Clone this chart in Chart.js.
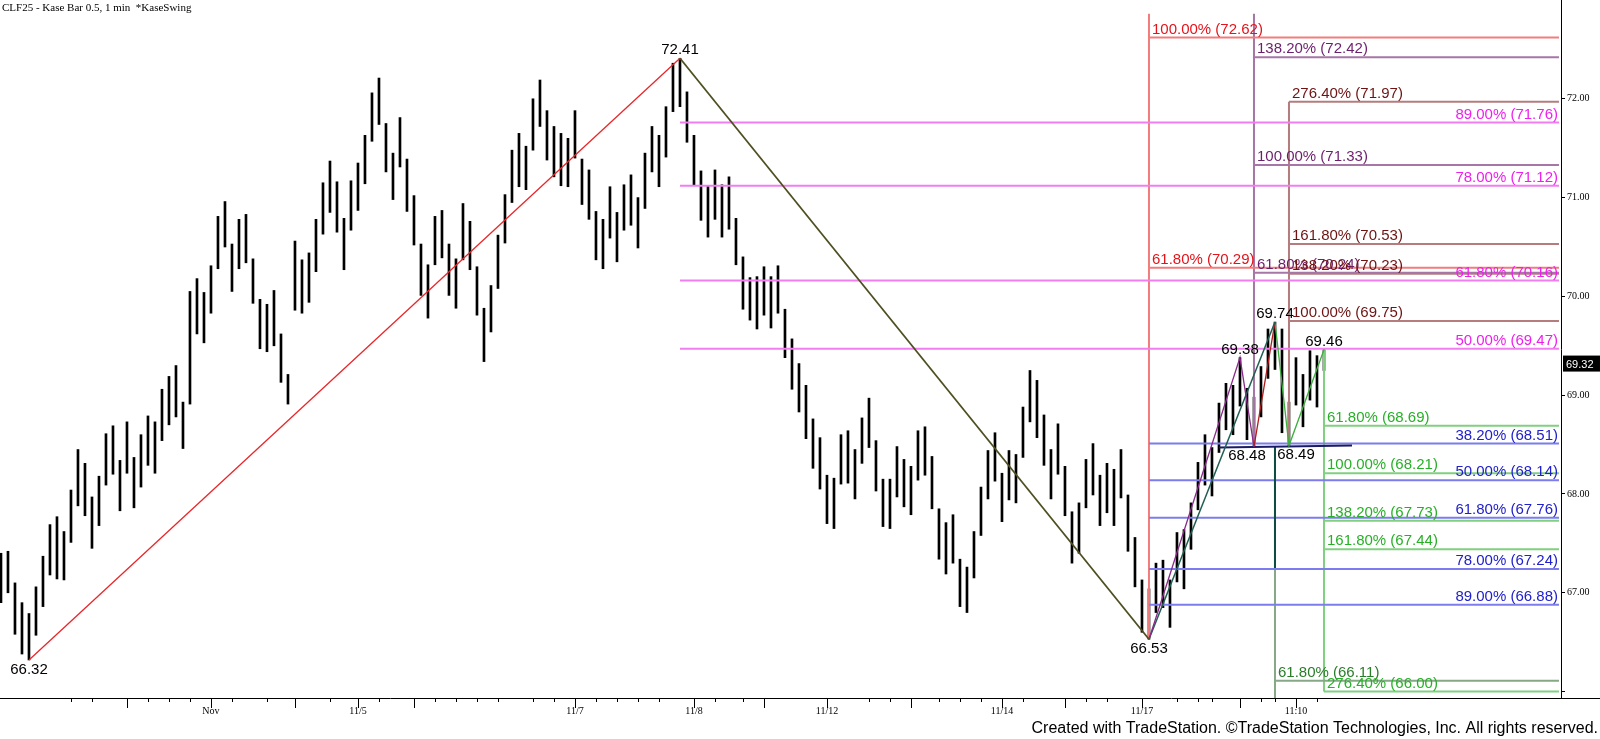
<!DOCTYPE html>
<html>
<head>
<meta charset="utf-8">
<script src="https://cdn.jsdelivr.net/npm/chart.js@4.4.1/dist/chart.umd.min.js"></script>
<style>
  html, body { margin: 0; padding: 0; background: #fff; }
  #wrap { width: 1600px; height: 739px; position: relative; }
</style>
</head>
<body>
<div id="wrap"><canvas id="chartKase"></canvas></div>
<script>
// one Kase bar per index
const highs = [67.40, 67.42, 67.10, 66.90, 66.79, 67.06, 67.37, 67.69, 67.77, 67.62,
  68.04, 68.45, 68.31, 67.97, 68.18, 68.61, 68.69, 68.34, 68.73, 68.37,
  68.60, 68.79, 68.73, 69.06, 69.19, 69.30, 68.93, 70.05, 70.18, 70.04,
  70.31, 70.81, 70.96, 70.53, 70.78, 70.83, 70.38, 69.97, 69.92, 70.06,
  69.62, 69.21, 70.56, 70.37, 70.44, 70.78, 71.15, 71.37, 71.16, 70.79,
  71.17, 71.35, 71.63, 72.06, 72.21, 71.75, 71.45, 71.81, 71.39, 71.02,
  70.53, 70.32, 70.81, 70.87, 70.53, 70.38, 70.94, 70.76, 70.30, 69.88,
  70.11, 70.62, 71.03, 71.48, 71.65, 71.52, 72.00, 72.19, 71.88, 71.72,
  71.65, 71.60, 71.88, 71.39, 71.28, 70.86, 70.78, 71.11, 70.85, 71.13,
  71.23, 71.00, 71.45, 71.72, 71.63, 71.92, 72.36, 72.41, 72.07, 71.63,
  71.27, 71.12, 71.28, 71.13, 71.21, 70.79, 70.40, 70.19, 70.20, 70.30,
  70.20, 70.31, 69.87, 69.57, 69.32, 69.10, 68.76, 68.57, 68.19, 68.16,
  68.60, 68.64, 68.45, 68.77, 68.97, 68.54, 68.15, 68.15, 68.48, 68.35,
  68.28, 68.64, 68.68, 68.38, 67.85, 67.71, 67.79, 67.34, 67.26, 67.62,
  68.07, 68.44, 68.62, 68.21, 68.44, 68.40, 68.88, 69.25, 69.15, 68.80,
  68.45, 68.71, 68.28, 67.82, 67.91, 68.35, 68.51, 68.19, 68.31, 68.25,
  68.45, 67.99, 67.56, 67.13, 67.04, 67.30, 67.33, 67.13, 67.61, 67.64,
  67.91, 68.32, 68.60, 68.47, 68.92, 69.12, 69.10, 69.38, 69.07, 68.98,
  69.29, 69.67, 69.74, 69.67, 68.93, 69.38, 69.21, 69.45, 69.40, 69.46];
const lows = [66.90, 67.00, 66.58, 66.38, 66.32, 66.57, 66.86, 67.18, 67.14, 67.13,
  67.51, 67.88, 67.78, 67.45, 67.68, 68.09, 68.20, 67.83, 68.21, 67.86,
  68.07, 68.29, 68.21, 68.54, 68.70, 68.78, 68.46, 68.91, 69.62, 69.53,
  69.83, 70.28, 70.50, 70.05, 70.28, 70.34, 69.93, 69.47, 69.44, 69.50,
  69.13, 68.91, 69.86, 69.83, 69.94, 70.25, 70.63, 70.85, 70.65, 70.27,
  70.67, 70.87, 71.14, 71.57, 71.74, 71.26, 70.98, 71.31, 70.86, 70.52,
  70.01, 69.78, 70.32, 70.39, 70.01, 69.88, 70.37, 70.27, 69.81, 69.34,
  69.64, 70.08, 70.54, 70.95, 71.11, 71.08, 71.48, 71.72, 71.38, 71.21,
  71.12, 71.11, 71.40, 70.93, 70.78, 70.37, 70.28, 70.59, 70.35, 70.67,
  70.72, 70.49, 70.89, 71.26, 71.11, 71.41, 71.87, 71.92, 71.56, 71.13,
  70.77, 70.60, 70.78, 70.60, 70.68, 70.32, 69.87, 69.76, 69.67, 69.81,
  69.68, 69.83, 69.38, 69.06, 68.83, 68.56, 68.26, 68.05, 67.70, 67.65,
  68.10, 68.11, 67.95, 68.31, 68.47, 68.03, 67.67, 67.65, 67.97, 67.87,
  67.79, 68.14, 68.19, 67.85, 67.34, 67.19, 67.30, 66.86, 66.80, 67.15,
  67.58, 67.95, 68.13, 67.72, 67.94, 67.91, 68.37, 68.73, 68.57, 68.29,
  67.95, 68.20, 67.78, 67.30, 67.40, 67.86, 67.99, 67.68, 67.81, 67.68,
  67.96, 67.42, 67.06, 66.60, 66.53, 66.80, 66.85, 66.65, 67.11, 67.04,
  67.44, 67.84, 68.09, 67.98, 68.42, 68.65, 68.60, 68.89, 68.55, 68.48,
  68.78, 69.17, 69.26, 68.62, 68.49, 68.90, 68.68, 68.95, 68.88, 69.25];

// swing points (bar index, price)
const swingIdx = [4, 97, 164, 177, 179, 182, 184, 189];
const swingPrices = [66.32, 72.41, 66.53, 69.38, 68.48, 69.74, 68.49, 69.46];
const swingBelow = [true, false, true, false, true, false, true, false];

// fib levels per projection
const redFibPct = ['100.00%', '61.80%'];
const redFibLevels = [72.62, 70.29];
const purpleFibPct = ['138.20%', '100.00%', '61.80%'];
const purpleFibLevels = [72.42, 71.33, 70.24];
const brownFibPct = ['276.40%', '161.80%', '138.20%', '100.00%'];
const brownFibLevels = [71.97, 70.53, 70.23, 69.75];
const magentaFibPct = ['89.00%', '78.00%', '61.80%', '50.00%'];
const magentaFibLevels = [71.76, 71.12, 70.16, 69.47];
const blueFibPct = ['38.20%', '50.00%', '61.80%', '78.00%', '89.00%'];
const blueFibLevels = [68.51, 68.14, 67.76, 67.24, 66.88];
const greenFibPct = ['61.80%', '100.00%', '138.20%', '161.80%', '276.40%'];
const greenFibLevels = [68.69, 68.21, 67.73, 67.44, 66.00];
const darkGreenFibPct = ['61.80%'];
const darkGreenFibLevels = [66.11];

// vertical anchors of the projections
const anchorIdx = [164, 179, 184, 182, 189];
const anchorTop = [72.86, 72.86, 71.97, 68.48, 69.46];
const anchorBottom = [66.53, 68.48, 68.49, 65.93, 66.00];

const priceTicks = [66, 67, 68, 69, 70, 71, 72];
const lastPrice = 69.32;

const majorTickIdx = [18, 30, 42, 51, 59, 82, 99, 109, 118, 130, 143, 152, 163, 177, 185];
const majorTickText = ['', 'Nov', '', '11/5', '', '11/7', '11/8', '', '11/12', '', '11/14', '', '11/17', '', '11:10'];
const minorTickIdx = [10, 13, 21, 24, 27, 33, 38, 47, 54, 62, 65, 68, 71, 76, 79, 85, 88, 91, 94,
  102, 106, 124, 127, 134, 137, 140, 146, 155, 158, 168, 171, 173, 180, 182, 188];

const lineEnd = 222.57;

const fibGroups = [
  { pct: redFibPct, levels: redFibLevels, from: 164, line: '#f27c7c', text: '#e3141b', align: 'left' },
  { pct: magentaFibPct, levels: magentaFibLevels, from: 97, line: '#f07ef0', text: '#ee1fee', align: 'right' },
  { pct: blueFibPct, levels: blueFibLevels, from: 164, line: '#7c7cec', text: '#2020cc', align: 'right' },
  { pct: purpleFibPct, levels: purpleFibLevels, from: 179, line: '#a676a6', text: '#6c1f6c', align: 'left' },
  { pct: brownFibPct, levels: brownFibLevels, from: 184, line: '#b47c7c', text: '#6e1212', align: 'left' },
  { pct: darkGreenFibPct, levels: darkGreenFibLevels, from: 182, line: '#86a886', text: '#2a7d2a', align: 'left' },
  { pct: greenFibPct, levels: greenFibLevels, from: 189, line: '#80d080', text: '#27b027', align: 'left' }
];
const anchorColors = ['#f27c7c', '#a676a6', '#b47c7c', '#86a886', '#80d080'];

const datasets = [];

// high-low bars
datasets.push({
  type: 'bar',
  data: highs.map((h, i) => ({ x: i, y: [lows[i], h] })),
  backgroundColor: '#000',
  borderWidth: 0,
  barThickness: 2,
  order: 10
});

function seg(points, color, width, order) {
  datasets.push({
    type: 'line',
    data: points,
    borderColor: color,
    borderWidth: width,
    pointRadius: 0,
    fill: false,
    tension: 0,
    order: order
  });
}

// fib horizontals and verticals
fibGroups.forEach(g => {
  g.levels.forEach(lv => seg([{ x: g.from, y: lv }, { x: lineEnd, y: lv }], g.line, 2, 5));
});
anchorIdx.forEach((ix, k) => {
  seg([{ x: ix, y: anchorTop[k] }, { x: ix, y: anchorBottom[k] }], anchorColors[k], 2, 5);
});
seg([{ x: 182, y: 68.48 }, { x: 182, y: 67.25 }], '#0e4b40', 2, 4);

// swing lines
const pt = k => ({ x: swingIdx[k], y: swingPrices[k] });
seg([pt(0), pt(1)], '#e8262a', 1.3, 1);
seg([pt(1), pt(2)], '#4f4f22', 1.8, 1);
seg([pt(2), pt(3), pt(4)], '#8a2a8a', 1.3, 1);
seg([pt(2), pt(5)], '#1e5f52', 1.5, 1);
seg([pt(4), pt(5)], '#b01c1c', 1.3, 1);
seg([pt(5), pt(6), pt(7)], '#3caf3c', 1.3, 1);
seg([{ x: 174, y: 68.47 }, { x: 193, y: 68.49 }], '#1b1b62', 2, 1);

const dayLabels = {};
majorTickIdx.forEach((v, k) => { dayLabels[v] = majorTickText[k]; });
const allTicks = majorTickIdx.concat(minorTickIdx).sort((a, b) => a - b);

const labelNudge = { 179: -7, 184: 7 };

const kaseText = {
  id: 'kaseText',
  afterDatasetsDraw(chart) {
    const ctx = chart.ctx, xs = chart.scales.x, ys = chart.scales.y;
    ctx.save();
    ctx.font = '15px "Liberation Sans", Arial, sans-serif';
    ctx.textBaseline = 'alphabetic';
    fibGroups.forEach(g => {
      ctx.fillStyle = g.text;
      g.levels.forEach((lv, k) => {
        const txt = g.pct[k] + ' (' + lv.toFixed(2) + ')';
        const y = ys.getPixelForValue(lv) - 4;
        if (g.align === 'left') {
          ctx.textAlign = 'left';
          ctx.fillText(txt, xs.getPixelForValue(g.from) + 3, y);
        } else {
          ctx.textAlign = 'right';
          ctx.fillText(txt, xs.getPixelForValue(lineEnd) - 1, y);
        }
      });
    });
    ctx.fillStyle = '#000';
    ctx.textAlign = 'center';
    swingIdx.forEach((ix, k) => {
      const x = xs.getPixelForValue(ix) + (labelNudge[ix] || 0);
      const y = ys.getPixelForValue(swingPrices[k]);
      if (swingBelow[k]) {
        ctx.textBaseline = 'top';
        ctx.fillText(swingPrices[k].toFixed(2), x, y + 2);
      } else {
        ctx.textBaseline = 'alphabetic';
        ctx.fillText(swingPrices[k].toFixed(2), x, y - 4);
      }
    });
    ctx.restore();
  },
  afterDraw(chart) {
    const ctx = chart.ctx, xs = chart.scales.x, ys = chart.scales.y, area = chart.chartArea;
    ctx.save();
    // x tick marks
    ctx.strokeStyle = '#000';
    ctx.lineWidth = 1;
    ctx.beginPath();
    majorTickIdx.forEach(v => {
      const x = Math.round(xs.getPixelForValue(v)) + 0.5;
      ctx.moveTo(x, area.bottom); ctx.lineTo(x, area.bottom + 10);
    });
    minorTickIdx.forEach(v => {
      const x = Math.round(xs.getPixelForValue(v)) + 0.5;
      ctx.moveTo(x, area.bottom); ctx.lineTo(x, area.bottom + 4);
    });
    ctx.moveTo(area.right, area.bottom + 0.5); ctx.lineTo(1600, area.bottom + 0.5);
    ctx.stroke();
    // last price box
    const py = ys.getPixelForValue(lastPrice);
    ctx.fillStyle = '#000';
    ctx.fillRect(area.right + 2, py - 8, 38, 16);
    ctx.fillStyle = '#fff';
    ctx.font = '11px "Liberation Sans", Arial, sans-serif';
    ctx.textAlign = 'left';
    ctx.textBaseline = 'middle';
    ctx.fillText(lastPrice.toFixed(2), area.right + 5, py + 1);
    // title and credit
    ctx.fillStyle = '#000';
    ctx.font = '11px "Liberation Serif", "Times New Roman", serif';
    ctx.fillText('CLF25 - Kase Bar 0.5, 1 min  *KaseSwing', 2, 8);
    ctx.font = '16px "Liberation Sans", Arial, sans-serif';
    ctx.textAlign = 'right';
    ctx.textBaseline = 'alphabetic';
    ctx.fillText('Created with TradeStation. \u00A9TradeStation Technologies, Inc. All rights reserved.', 1598, 733);
    ctx.restore();
  }
};

new Chart(document.getElementById('chartKase'), {
  type: 'line',
  data: { datasets: datasets },
  options: {
    responsive: true,
    maintainAspectRatio: false,
    animation: false,
    devicePixelRatio: 1,
    layout: { padding: 0 },
    plugins: { legend: { display: false }, tooltip: { enabled: false } },
    scales: {
      x: {
        type: 'linear',
        min: -0.14,
        max: 222.86,
        offset: false,
        afterBuildTicks: s => { s.ticks = allTicks.map(v => ({ value: v })); },
        afterFit: s => { s.height = 41; s.paddingLeft = 0; s.paddingRight = 0; },
        ticks: {
          autoSkip: false,
          maxRotation: 0,
          padding: 7,
          color: '#000',
          font: { family: '"Liberation Serif", "Times New Roman", serif', size: 10 },
          callback: v => dayLabels[v] || ''
        },
        grid: { display: true, drawOnChartArea: false, drawTicks: false },
        border: { display: true, color: '#000', width: 1 }
      },
      y: {
        position: 'right',
        min: 65.935,
        max: 73.0,
        beginAtZero: false,
        afterBuildTicks: s => { s.ticks = priceTicks.map(v => ({ value: v })); },
        afterFit: s => { s.width = 39; s.paddingTop = 0; s.paddingBottom = 0; },
        ticks: {
          padding: 2,
          color: '#000',
          font: { family: '"Liberation Serif", "Times New Roman", serif', size: 10 },
          callback: v => (v === 66 ? '' : v.toFixed(2))
        },
        grid: { display: true, drawOnChartArea: false, drawTicks: true, tickLength: 4, color: '#000' },
        border: { display: true, color: '#000', width: 1 }
      }
    }
  },
  plugins: [kaseText]
});
</script>
</body>
</html>
